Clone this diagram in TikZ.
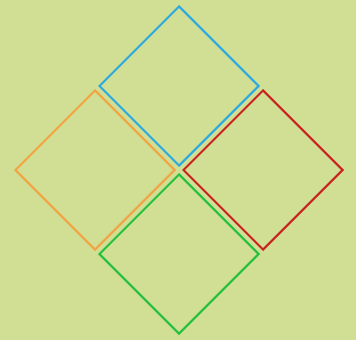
\documentclass[tikz,border=0pt]{standalone}
\usepackage{tikz}
\usepackage{xcolor}
\usetikzlibrary{shapes.geometric}
\definecolor{bgfield}{HTML}{D0DF94}
\definecolor{skyblue}{HTML}{2BA9E0}
\definecolor{sunorange}{HTML}{F2A444}
\definecolor{brickred}{HTML}{C8221E}
\definecolor{leafgreen}{HTML}{24C03E}
\tikzset{
  line cap=round,
  line join=round,
  rhomb/.style={draw, diamond, aspect=1, inner sep=0pt, minimum size=120pt, line width=1.5pt}
}

\begin{document}
\begin{tikzpicture}[x=0.75pt, y=0.75pt]
  \fill[bgfield] (0,0) rectangle (356,340);
  \useasboundingbox (0,0) rectangle (356,340);

  \node[rhomb, draw=skyblue] (top) at (179,254) {};
  \node[rhomb, draw=sunorange] (left) at (95,170) {};
  \node[rhomb, draw=brickred] (right) at (263,170) {};
  \node[rhomb, draw=leafgreen] (bottom) at (179,86) {};
\end{tikzpicture}
\end{document}
